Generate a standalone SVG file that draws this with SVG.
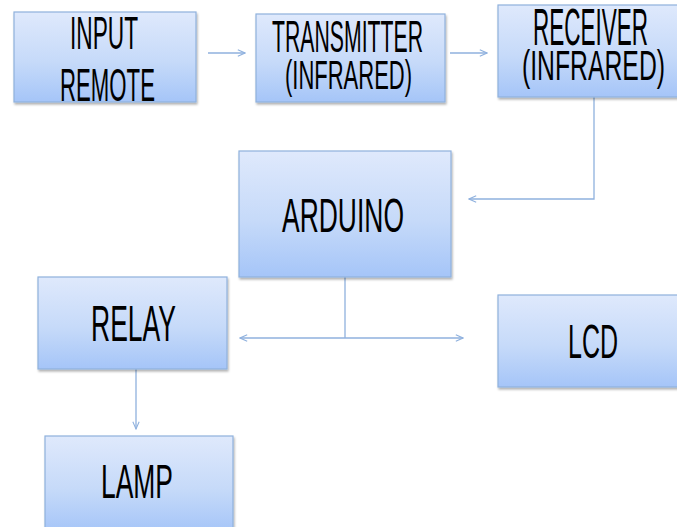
<svg xmlns="http://www.w3.org/2000/svg" width="677" height="527" viewBox="0 0 677 527">
<defs>
<linearGradient id="g" x1="0" y1="0" x2="0" y2="1">
<stop offset="0" stop-color="#dfe9fc"/>
<stop offset="0.55" stop-color="#c6daf9"/>
<stop offset="1" stop-color="#a5c5f8"/>
</linearGradient>
<filter id="sh" x="-5%" y="-5%" width="115%" height="120%">
<feDropShadow dx="1" dy="2" stdDeviation="1.2" flood-color="#000" flood-opacity="0.3"/>
</filter>
<marker id="ah" viewBox="0 0 10 10" refX="9" refY="5" markerWidth="9" markerHeight="9" markerUnits="userSpaceOnUse" orient="auto-start-reverse">
<polyline points="1,1.5 9,5 1,8.5" fill="none" stroke="#8fb1de" stroke-width="1.2"/>
</marker>
</defs>
<style>
.box{fill:url(#g);stroke:#8fb1dd;stroke-width:1.2;filter:url(#sh)}
.t{font-family:"Liberation Sans Narrow","Liberation Sans",sans-serif;fill:#000;font-size:48px}
.c{fill:none;stroke:#8fb1de;stroke-width:1.3}
</style>
<rect width="677" height="527" fill="#fff"/>
<g id="connectors">
<line class="c" x1="208" y1="53" x2="245" y2="53" marker-end="url(#ah)"/>
<line class="c" x1="450" y1="53" x2="487" y2="53" marker-end="url(#ah)"/>
<polyline class="c" points="594,97 594,199 469,199" marker-end="url(#ah)"/>
<line class="c" x1="345" y1="277" x2="345" y2="338"/>
<line class="c" x1="240" y1="338" x2="463" y2="338" marker-start="url(#ah)" marker-end="url(#ah)"/>
<line class="c" x1="136" y1="369" x2="136" y2="429" marker-end="url(#ah)"/>
</g>
<g id="input-remote">
<rect class="box" x="14" y="12" width="182" height="90"/>
<text class="t" x="70" y="49" style="font-size:46px" textLength="68" lengthAdjust="spacingAndGlyphs">INPUT</text>
<text class="t" x="60" y="101" style="font-size:46px" textLength="95" lengthAdjust="spacingAndGlyphs">REMOTE</text>
</g>
<g id="transmitter">
<rect class="box" x="256" y="14" width="189" height="88"/>
<text class="t" x="272" y="52" style="font-size:45px" textLength="151" lengthAdjust="spacingAndGlyphs">TRANSMITTER</text>
<text class="t" x="285" y="89" style="font-size:40px" textLength="127" lengthAdjust="spacingAndGlyphs">(INFRARED)</text>
</g>
<g id="receiver">
<rect class="box" x="498" y="5" width="183" height="92"/>
<text class="t" x="533" y="45" style="font-size:51px" textLength="115" lengthAdjust="spacingAndGlyphs">RECEIVER</text>
<text class="t" x="522" y="80" style="font-size:42px" textLength="143" lengthAdjust="spacingAndGlyphs">(INFRARED)</text>
</g>
<g id="arduino">
<rect class="box" x="239" y="151" width="212" height="126"/>
<text class="t" x="282" y="232" textLength="122" lengthAdjust="spacingAndGlyphs">ARDUINO</text>
</g>
<g id="relay">
<rect class="box" x="38" y="277" width="189" height="92"/>
<text class="t" x="91" y="341" style="font-size:50px" textLength="85" lengthAdjust="spacingAndGlyphs">RELAY</text>
</g>
<g id="lcd">
<rect class="box" x="498" y="295" width="183" height="92"/>
<text class="t" x="568" y="358" style="font-size:49px" textLength="50" lengthAdjust="spacingAndGlyphs">LCD</text>
</g>
<g id="lamp">
<rect class="box" x="45" y="436" width="188" height="96"/>
<text class="t" x="101" y="498" textLength="72" lengthAdjust="spacingAndGlyphs">LAMP</text>
</g>
</svg>
